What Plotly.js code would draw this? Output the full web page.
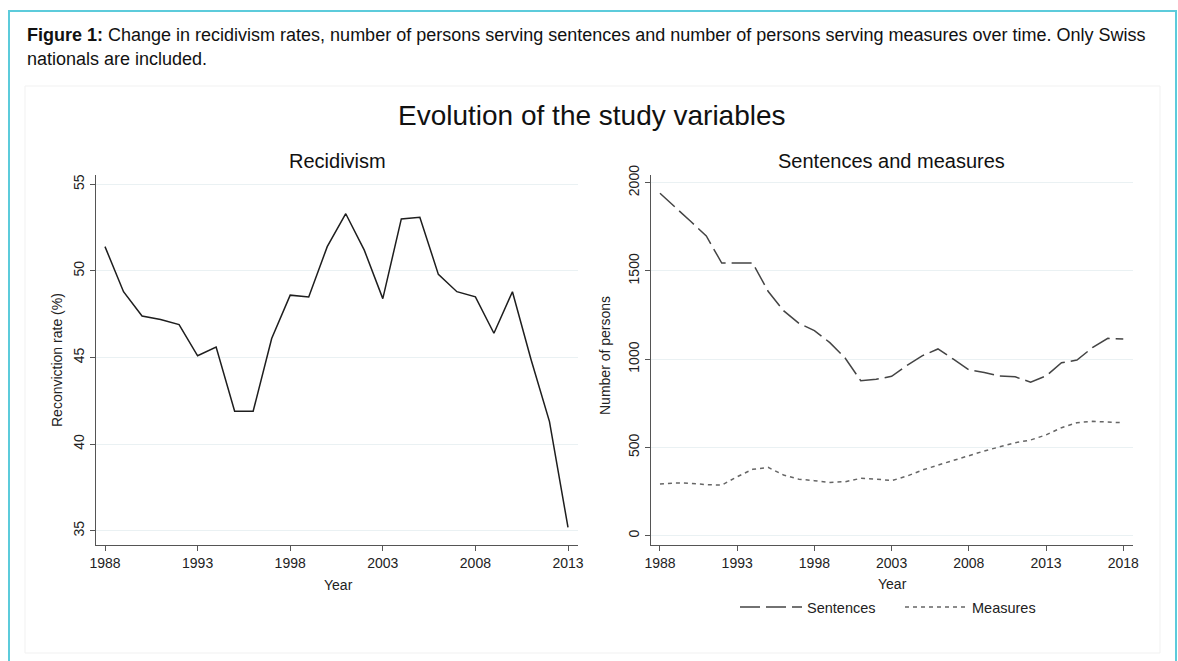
<!DOCTYPE html>
<html>
<head>
<meta charset="utf-8">
<script src="https://cdn.plot.ly/plotly-3.0.1.min.js"></script>
<style>
html,body{margin:0;padding:0;background:#fff;overflow:hidden;}
#chart{width:1178px;height:661px;}
</style>
</head>
<body>
<div id="chart"></div>
<script>
// ---- Data ----
const yearsRecidivism = [1988,1989,1990,1991,1992,1993,1994,1995,1996,1997,1998,1999,2000,2001,2002,2003,2004,2005,2006,2007,2008,2009,2010,2011,2012,2013];
const recidivismRate = [51.4,48.8,47.4,47.2,46.9,45.1,45.6,41.9,41.9,46.1,48.6,48.5,51.4,53.3,51.2,48.4,53.0,53.1,49.8,48.8,48.5,46.4,48.8,44.9,41.3,35.2];

const yearsPersons = [1988,1989,1990,1991,1992,1993,1994,1995,1996,1997,1998,1999,2000,2001,2002,2003,2004,2005,2006,2007,2008,2009,2010,2011,2012,2013,2014,2015,2016,2017,2018];
const sentences = [1940,1862,1780,1698,1545,1545,1545,1385,1275,1203,1162,1094,1005,878,886,903,965,1020,1058,1000,940,925,905,900,870,905,980,995,1065,1118,1115];
const measures = [293,299,297,289,287,334,376,387,344,320,312,302,306,325,321,312,338,372,400,425,453,480,504,527,542,571,612,640,648,644,640];

const xTicksLeft = [1988,1993,1998,2003,2008,2013];
const xTicksRight = [1988,1993,1998,2003,2008,2013,2018];
const yTicksLeft = [35,40,45,50,55];
const yTicksRight = [0,500,1000,1500,2000];

// ---- Layout helpers (pixel -> paper) ----
const W = 1178, H = 661;
const px = v => v / W;
const py = v => 1 - v / H;
const FONT = '"Liberation Sans", Arial, sans-serif';

const traces = [
  {x: yearsRecidivism, y: recidivismRate, xaxis: 'x', yaxis: 'y', type: 'scatter', mode: 'lines',
   line: {color: '#1e1e1e', width: 1.5}, showlegend: false, hoverinfo: 'x+y'},
  {x: yearsPersons, y: sentences, xaxis: 'x2', yaxis: 'y2', type: 'scatter', mode: 'lines', name: 'Sentences',
   line: {color: '#444444', width: 1.5, dash: '20px,6px'}},
  {x: yearsPersons, y: measures, xaxis: 'x2', yaxis: 'y2', type: 'scatter', mode: 'lines', name: 'Measures',
   line: {color: '#666666', width: 1.5, dash: '4px,4px'}}
];

const axisCommon = {
  showline: true, linecolor: '#555', linewidth: 1,
  ticks: 'outside', ticklen: 5, tickcolor: '#555', tickwidth: 1,
  tickfont: {family: FONT, size: 14, color: '#222'},
  zeroline: false, fixedrange: true
};

const layout = {
  width: W, height: H,
  margin: {l: 0, r: 0, t: 0, b: 0, autoexpand: false},
  paper_bgcolor: '#fff', plot_bgcolor: '#fff',
  font: {family: FONT, color: '#222'},
  showlegend: true,
  legend: {
    orientation: 'h', x: px(735), xanchor: 'left', y: py(607), yanchor: 'middle',
    font: {family: FONT, size: 14.5, color: '#222'}, itemwidth: 62, entrywidth: 88, entrywidthmode: 'pixels',
    bgcolor: 'rgba(0,0,0,0)'
  },
  xaxis: Object.assign({}, axisCommon, {
    domain: [px(96), px(578)], range: [1987.514, 2013.54],
    tickvals: xTicksLeft, ticktext: xTicksLeft.map(String), showgrid: false, anchor: 'y'
  }),
  yaxis: Object.assign({}, axisCommon, {
    domain: [py(545), py(175)], range: [34.18, 55.535],
    tickvals: yTicksLeft, ticktext: yTicksLeft.map(String), tickangle: -90,
    showgrid: true, gridcolor: '#eaf1f3', gridwidth: 1, anchor: 'x'
  }),
  xaxis2: Object.assign({}, axisCommon, {
    domain: [px(650.7), px(1133)], range: [1987.40, 2018.63],
    tickvals: xTicksRight, ticktext: xTicksRight.map(String), showgrid: false, anchor: 'y2'
  }),
  yaxis2: Object.assign({}, axisCommon, {
    domain: [py(545), py(175)], range: [-52.7, 2043.6],
    tickvals: yTicksRight, ticktext: yTicksRight.map(String), tickangle: -90,
    showgrid: true, gridcolor: '#eaf1f3', gridwidth: 1, anchor: 'x2'
  }),
  shapes: [
    {type: 'rect', xref: 'paper', yref: 'paper', x0: px(9), x1: px(1176), y0: py(672), y1: py(11),
     line: {color: '#5ccbdb', width: 2}, fillcolor: 'rgba(0,0,0,0)', layer: 'below'},
    {type: 'rect', xref: 'paper', yref: 'paper', x0: px(25), x1: px(1160), y0: py(653), y1: py(86),
     line: {color: '#f1f1f1', width: 1}, fillcolor: 'rgba(0,0,0,0)', layer: 'below'}
  ],
  annotations: [
    {text: '<b>Figure 1:</b> Change in recidivism rates, number of persons serving sentences and number of persons serving measures over time. Only Swiss',
     xref: 'paper', yref: 'paper', x: px(25), y: py(35), xanchor: 'left', yanchor: 'middle', showarrow: false,
     font: {family: FONT, size: 18, color: '#111'}},
    {text: 'nationals are included.',
     xref: 'paper', yref: 'paper', x: px(25), y: py(59), xanchor: 'left', yanchor: 'middle', showarrow: false,
     font: {family: FONT, size: 18, color: '#111'}},
    {text: 'Evolution of the study variables',
     xref: 'paper', yref: 'paper', x: px(592), y: py(115), xanchor: 'center', yanchor: 'middle', showarrow: false,
     font: {family: FONT, size: 28, color: '#111'}},
    {text: 'Recidivism',
     xref: 'paper', yref: 'paper', x: px(337), y: py(161), xanchor: 'center', yanchor: 'middle', showarrow: false,
     font: {family: FONT, size: 20, color: '#111'}},
    {text: 'Sentences and measures',
     xref: 'paper', yref: 'paper', x: px(891), y: py(161), xanchor: 'center', yanchor: 'middle', showarrow: false,
     font: {family: FONT, size: 20, color: '#111'}},
    {text: 'Year',
     xref: 'paper', yref: 'paper', x: px(338), y: py(585), xanchor: 'center', yanchor: 'middle', showarrow: false,
     font: {family: FONT, size: 14, color: '#222'}},
    {text: 'Year',
     xref: 'paper', yref: 'paper', x: px(892), y: py(584), xanchor: 'center', yanchor: 'middle', showarrow: false,
     font: {family: FONT, size: 14, color: '#222'}},
    {text: 'Reconviction rate (%)',
     xref: 'paper', yref: 'paper', x: px(57), y: py(360), xanchor: 'center', yanchor: 'middle', showarrow: false,
     textangle: -90, font: {family: FONT, size: 14, color: '#222'}},
    {text: 'Number of persons',
     xref: 'paper', yref: 'paper', x: px(605), y: py(356), xanchor: 'center', yanchor: 'middle', showarrow: false,
     textangle: -90, font: {family: FONT, size: 14, color: '#222'}}
  ]
};

Plotly.newPlot('chart', traces, layout, {displayModeBar: false, staticPlot: true});
</script>
</body>
</html>
